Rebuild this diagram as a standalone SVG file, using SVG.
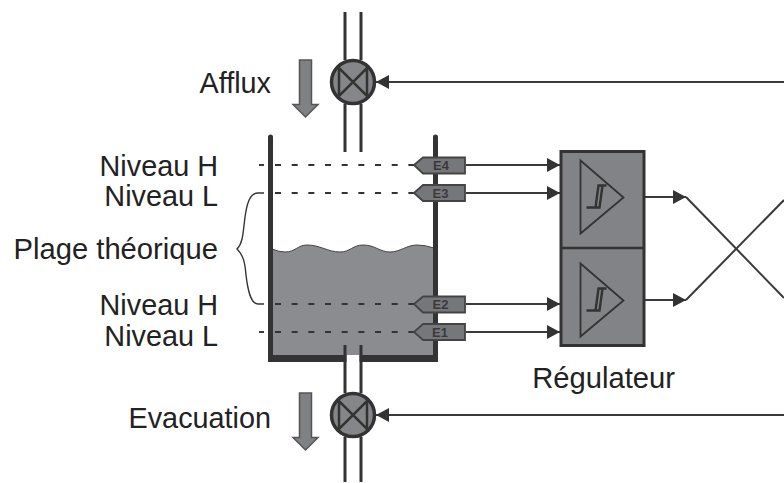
<svg xmlns="http://www.w3.org/2000/svg" width="784" height="483" viewBox="0 0 784 483">
<defs>
<marker id="ah" markerUnits="userSpaceOnUse" markerWidth="14" markerHeight="14" refX="13" refY="7" orient="auto"><path d="M0,0 L13,7 L0,14 Z" fill="#333"/></marker>
<g id="hyst"><path d="M0,0 V73 L43,37 Z" fill="none" stroke="#333" stroke-width="1.800"/><path d="M6,47 H15 L18,25 H26 M15,47 H19 L22,25" fill="none" stroke="#333" stroke-width="2.400"/></g>
<g id="valve"><circle cx="0" cy="0" r="21.500" fill="#85868a" stroke="#333" stroke-width="3.500"/><path d="M-14,-14 V14 L14,-14 V14 Z" fill="none" stroke="#333" stroke-width="2.500"/></g>
</defs>
<style>
text{font-family:"Liberation Sans",Arial,sans-serif;fill:#222}
.l{font-size:28.800px;text-anchor:end}
.e{font-size:13px;font-weight:bold;fill:#3a3a3a;text-anchor:middle}
.p{fill:none;stroke:#333;stroke-width:3}
.w{fill:none;stroke:#333;stroke-width:5;stroke-linecap:round}
.d{fill:none;stroke:#333;stroke-width:2;stroke-dasharray:6 10.670}
.c{fill:none;stroke:#3a3a3a;stroke-width:2}
.s{fill:#76777b;stroke:#444;stroke-width:1.800}
.a{fill:#808185;stroke:#555;stroke-width:1.500}
</style>
<g id="tank">
<path d="M272,249 Q279,252 285,252 C295,252 298,245 307,245 C320,245 328,252 340,252 C350,252 353,245 363,245 C375,245 380,252 390,252 C400,252 407,245 417,245 Q425,245 434,248 V358 H272 Z" fill="#8b8c90" stroke="#444" stroke-width="1"/>
<path class="w" d="M270.500,137 V356 M435.500,137 V356"/>
<path d="M268,358.500 H438" stroke="#333" stroke-width="7"/>
<rect x="346.500" y="355" width="13" height="8" fill="#fff"/>
</g>
<g id="pipes">
<path class="p" d="M345,12 V60 M361,12 V60 M345,104 V152 M361,104 V152"/>
<path class="p" d="M345,345 V393 M361,345 V393 M345,437 V482 M361,437 V482"/>
</g>
<g id="valve-top"><use href="#valve" x="353" y="82"/></g>
<g id="valve-bottom"><use href="#valve" x="353" y="415"/></g>
<g id="arrow-afflux"><path class="a" d="M299.500,60 H311.500 V104.500 H318 L305.500,117 L293,104.500 H299.500 Z"/></g>
<g id="arrow-evacuation"><path class="a" d="M299.500,393 H311.500 V437.500 H318 L305.500,450 L293,437.500 H299.500 Z"/></g>
<g id="levels">
<path class="d" d="M275,165 H414"/>
<path class="d" d="M275,193 H414"/>
<path class="d" d="M275,304 H414"/>
<path class="d" d="M275,332 H414"/>
<path class="c" d="M259,165 H264"/>
<path class="c" d="M259,332 H264"/>
</g>
<g id="brace"><path d="M264,193 H258 C250,193 247,203 245,217 C243,233 243,243 237,249 C243,255 245,262 246,275 C248,292 251,304 258,304 H264" fill="none" stroke="#333" stroke-width="1.400"/></g>
<g id="connectors">
<path class="c" d="M466,165 H560" marker-end="url(#ah)"/>
<path class="c" d="M466,193 H560" marker-end="url(#ah)"/>
<path class="c" d="M466,304 H560" marker-end="url(#ah)"/>
<path class="c" d="M466,332 H560" marker-end="url(#ah)"/>
<path class="c" d="M645,197 H686" marker-end="url(#ah)"/>
<path class="c" d="M645,300 H686" marker-end="url(#ah)"/>
<path class="c" d="M686,197 L784,298"/>
<path class="c" d="M686,300 L784,200"/>
<path class="c" d="M784,82 H376" marker-end="url(#ah)"/>
<path class="c" d="M784,415 H376" marker-end="url(#ah)"/>
</g>
<g id="E4"><path class="s" d="M414,165 L423,157.500 H465 V173.500 H423 Z"/><text class="e" x="441" y="170">E4</text></g>
<g id="E3"><path class="s" d="M414,193 L423,185 H465 V201 H423 Z"/><text class="e" x="440.500" y="198">E3</text></g>
<g id="E2"><path class="s" d="M414,304 L423,296.500 H465 V312.500 H423 Z"/><text class="e" x="440.500" y="309">E2</text></g>
<g id="E1"><path class="s" d="M414,332 L423,324 H465 V340 H423 Z"/><text class="e" x="440" y="337">E1</text></g>
<g id="regulator">
<rect x="561" y="151.500" width="83" height="194" fill="#828387" stroke="#333" stroke-width="3"/>
<path d="M561,248 H644" stroke="#333" stroke-width="2.500"/>
<use href="#hyst" x="580.500" y="160.500"/>
<use href="#hyst" x="580.500" y="263.500"/>
</g>
<g id="labels">
<text class="l" x="271" y="93">Afflux</text>
<text class="l" x="218" y="176">Niveau H</text>
<text class="l" x="218" y="206">Niveau L</text>
<text class="l" x="218" y="259" style="font-size:29.200px">Plage théorique</text>
<text class="l" x="218" y="315">Niveau H</text>
<text class="l" x="218" y="346">Niveau L</text>
<text class="l" x="271" y="428">Evacuation</text>
<text class="l" x="675" y="388" style="font-size:29.200px">Régulateur</text>
</g>
</svg>
